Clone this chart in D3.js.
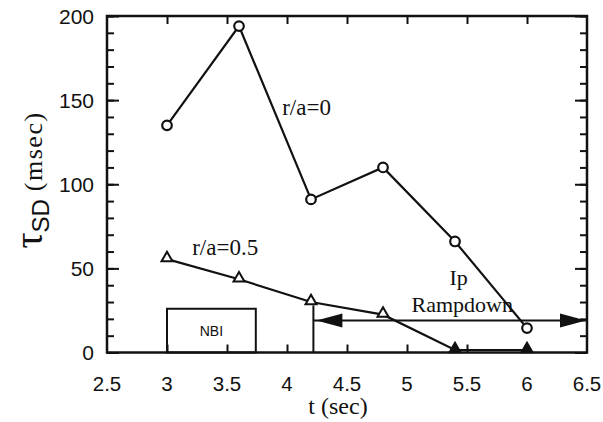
<!DOCTYPE html>
<html>
<head>
<meta charset="utf-8">
<script src="https://cdn.jsdelivr.net/npm/d3@7"></script>
<style>
  html, body { margin: 0; padding: 0; background: #fff; }
  svg { display: block; }
</style>
</head>
<body>
<svg id="chart" width="603" height="422"></svg>
<script>
// Sawtooth decay time versus time, two radii
const times = [3, 3.6, 4.2, 4.8, 5.4, 6];
const tauCore = [135, 194, 91, 110, 66, 14.5];      // r/a = 0
const tauHalf = [55.5, 43.5, 30, 22.5, 1.5, 1.5];   // r/a = 0.5

const xTicks = [2.5, 3, 3.5, 4, 4.5, 5, 5.5, 6, 6.5];
const xTickLabels = ["2.5", "3", "3.5", "4", "4.5", "5", "5.5", "6", "6.5"];
const yTicks = [0, 50, 100, 150, 200];
const yTickLabels = ["0", "50", "100", "150", "200"];

// NBI heating window and current ramp-down interval
const nbiWindow = [3, 3.74];
const nbiHeight = 26;
const rampWindow = [4.22, 6.5];
const rampLevel = 19;
const rampMarkTop = 28;

// text annotations: [t, value, text]
const seriesNotes = [[3.96, 141, "r/a=0"], [3.21, 58, "r/a=0.5"]];
const rampNotes = [[5.43, 40, "Ip"], [5.46, 24, "Rampdown"]];

const svg = d3.select("#chart");
const plotL = 107, plotR = 587, plotT = 16, plotB = 352.5;

const x = d3.scaleLinear().domain([2.5, 6.5]).range([plotL, plotR]);
const y = d3.scaleLinear().domain([0, 200]).range([plotB, plotT]);

const ink = "#111";
const serif = "'Liberation Serif', 'Times New Roman', serif";
const sans = "'Liberation Sans', Arial, Helvetica, sans-serif";

// inward ticks on all four sides
const minorY = d3.range(0, 201, 10);
const innerX = xTicks.slice(1, -1);

const axisBottom = d3.axisBottom(x).tickValues(innerX).tickSize(-8).tickFormat("");
const axisTop = d3.axisTop(x).tickValues(innerX).tickSize(-8).tickFormat("");
const axisLeftMinor = d3.axisLeft(y).tickValues(minorY).tickSize(-7).tickFormat("");
const axisLeftMajor = d3.axisLeft(y).tickValues(yTicks).tickSize(-12).tickFormat("");
const axisRightMinor = d3.axisRight(y).tickValues(minorY).tickSize(-7).tickFormat("");
const axisRightMajor = d3.axisRight(y).tickValues(yTicks).tickSize(-12).tickFormat("");

function styleAxis(g) {
  g.select(".domain").remove();
  g.selectAll(".tick line").attr("stroke", ink).attr("stroke-width", 2);
}
svg.append("g").attr("transform", `translate(0,${plotB})`).call(axisBottom).call(styleAxis);
svg.append("g").attr("transform", `translate(0,${plotT})`).call(axisTop).call(styleAxis);
svg.append("g").attr("transform", `translate(${plotL},0)`).call(axisLeftMinor).call(styleAxis);
svg.append("g").attr("transform", `translate(${plotL},0)`).call(axisLeftMajor).call(styleAxis);
svg.append("g").attr("transform", `translate(${plotR},0)`).call(axisRightMinor).call(styleAxis);
svg.append("g").attr("transform", `translate(${plotR},0)`).call(axisRightMajor).call(styleAxis);

// frame
svg.append("rect")
  .attr("x", plotL).attr("y", plotT)
  .attr("width", plotR - plotL).attr("height", plotB - plotT)
  .attr("fill", "none").attr("stroke", ink).attr("stroke-width", 2.5);

// tick labels
svg.append("g").selectAll("text").data(xTicks).join("text")
  .attr("x", d => x(d)).attr("y", 391)
  .attr("text-anchor", "middle")
  .attr("font-family", sans).attr("font-size", 20.5).attr("fill", ink)
  .text((d, i) => xTickLabels[i]);

svg.append("g").selectAll("text").data(yTicks).join("text")
  .attr("x", 94).attr("y", d => y(d)).attr("dy", "0.36em")
  .attr("text-anchor", "end")
  .attr("font-family", sans).attr("font-size", 21).attr("fill", ink)
  .text((d, i) => yTickLabels[i]);

// axis titles
svg.append("text")
  .attr("x", 338).attr("y", 414).attr("text-anchor", "middle")
  .attr("font-family", serif).attr("font-size", 24).attr("fill", ink)
  .text("t (sec)");

const yTitle = svg.append("text")
  .attr("transform", "translate(42,180) rotate(-90)")
  .attr("text-anchor", "middle").attr("fill", ink);
yTitle.append("tspan").attr("font-family", serif).attr("font-size", 40).text("τ");
yTitle.append("tspan").attr("font-family", sans).attr("font-size", 24).attr("dy", 7).text("SD");
yTitle.append("tspan").attr("font-family", serif).attr("font-size", 26)
  .attr("letter-spacing", 1.5).attr("dy", -7).text(" (msec)");

// NBI box
svg.append("rect")
  .attr("x", x(nbiWindow[0])).attr("y", y(nbiHeight))
  .attr("width", x(nbiWindow[1]) - x(nbiWindow[0]))
  .attr("height", y(0) - y(nbiHeight))
  .attr("fill", "none").attr("stroke", ink).attr("stroke-width", 2);
svg.append("text")
  .attr("x", (x(nbiWindow[0]) + x(nbiWindow[1])) / 2).attr("y", y(nbiHeight / 2)).attr("dy", "0.38em")
  .attr("text-anchor", "middle")
  .attr("font-family", sans).attr("font-size", 14).attr("fill", ink)
  .text("NBI");

// ramp-down marker and double arrow
svg.append("line")
  .attr("x1", x(rampWindow[0])).attr("x2", x(rampWindow[0]))
  .attr("y1", y(0)).attr("y2", y(rampMarkTop))
  .attr("stroke", ink).attr("stroke-width", 2);
svg.append("line")
  .attr("x1", x(rampWindow[0])).attr("x2", x(rampWindow[1]))
  .attr("y1", y(rampLevel)).attr("y2", y(rampLevel))
  .attr("stroke", ink).attr("stroke-width", 2);
const headLen = 26, headHalf = 7;
const ay = y(rampLevel);
const xa = x(rampWindow[0]) + 3, xb = x(rampWindow[1]) - 1;
svg.append("path")
  .attr("d", `M${xa},${ay} L${xa + headLen},${ay - headHalf} L${xa + headLen},${ay + headHalf} Z`)
  .attr("fill", ink);
svg.append("path")
  .attr("d", `M${xb},${ay} L${xb - headLen},${ay - headHalf} L${xb - headLen},${ay + headHalf} Z`)
  .attr("fill", ink);

svg.append("g").selectAll("text").data(rampNotes).join("text")
  .attr("x", d => x(d[0])).attr("y", d => y(d[1]))
  .attr("text-anchor", "middle")
  .attr("font-family", serif).attr("font-size", 22).attr("fill", ink)
  .text(d => d[2]);

// series lines
const line = d3.line().x((d, i) => x(times[i])).y(d => y(d));
svg.append("path").datum(tauCore).attr("d", line)
  .attr("fill", "none").attr("stroke", ink).attr("stroke-width", 2.2);
svg.append("path").datum(tauHalf).attr("d", line)
  .attr("fill", "none").attr("stroke", ink).attr("stroke-width", 2.2);

// markers: open circles for r/a=0, triangles for r/a=0.5 (solid where they sit on the axis)
svg.append("g").selectAll("circle").data(tauCore).join("circle")
  .attr("cx", (d, i) => x(times[i])).attr("cy", d => y(d)).attr("r", 4.8)
  .attr("fill", "#fff").attr("stroke", ink).attr("stroke-width", 2.2);

const tri = d3.symbol().type(d3.symbolTriangle).size(52);
svg.append("g").selectAll("path").data(tauHalf).join("path")
  .attr("d", tri)
  .attr("transform", (d, i) => `translate(${x(times[i])},${y(d) - 1})`)
  .attr("fill", d => d < 5 ? ink : "#fff")
  .attr("stroke", ink).attr("stroke-width", 2);

// series labels
svg.append("g").selectAll("text").data(seriesNotes).join("text")
  .attr("x", d => x(d[0])).attr("y", d => y(d[1]))
  .attr("font-family", serif).attr("font-size", 23).attr("fill", ink)
  .text(d => d[2]);
</script>
</body>
</html>
